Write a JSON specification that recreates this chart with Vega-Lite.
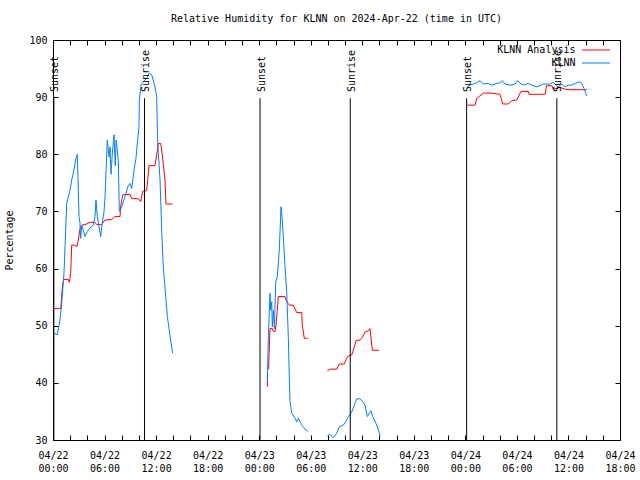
{
  "$schema": "https://vega.github.io/schema/vega-lite/v6.json",
  "width": 567,
  "height": 400,
  "autosize": {"type": "none"},
  "padding": {"left": 53, "top": 40, "right": 20, "bottom": 40},
  "background": "white",
  "config": {
    "font": "DejaVu Sans Mono",
    "view": {"stroke": "black", "strokeWidth": 1},
    "axis": {"labelFont": "DejaVu Sans Mono", "labelFontSize": 10, "labelColor": "black", "titleFont": "DejaVu Sans Mono", "titleFontSize": 10, "titleFontWeight": "normal", "titleColor": "black", "grid": false, "domain": false, "tickColor": "black"},
    "legend": {"labelFont": "DejaVu Sans Mono", "labelFontSize": 10, "labelColor": "black", "titleFont": "DejaVu Sans Mono", "titleFontSize": 10},
    "title": {"font": "DejaVu Sans Mono", "fontSize": 10, "fontWeight": "normal", "color": "black"}
  },
  "title": {"text": "Relative Humidity for KLNN on 2024-Apr-22 (time in UTC)", "anchor": "middle", "offset": 11},
  "datasets": {
    "rh": [
      {"series": "KLNN Analysis", "seg": 1, "h": 0.03, "rh": 53.0},
      {"series": "KLNN Analysis", "seg": 1, "h": 0.9, "rh": 53.0},
      {"series": "KLNN Analysis", "seg": 1, "h": 1.13, "rh": 57.4},
      {"series": "KLNN Analysis", "seg": 1, "h": 1.28, "rh": 58.1},
      {"series": "KLNN Analysis", "seg": 1, "h": 1.78, "rh": 58.1},
      {"series": "KLNN Analysis", "seg": 1, "h": 1.9, "rh": 57.6},
      {"series": "KLNN Analysis", "seg": 1, "h": 2.06, "rh": 59.2},
      {"series": "KLNN Analysis", "seg": 1, "h": 2.18, "rh": 64.1},
      {"series": "KLNN Analysis", "seg": 1, "h": 2.56, "rh": 64.1},
      {"series": "KLNN Analysis", "seg": 1, "h": 2.76, "rh": 63.8},
      {"series": "KLNN Analysis", "seg": 1, "h": 2.95, "rh": 65.0},
      {"series": "KLNN Analysis", "seg": 1, "h": 3.14, "rh": 67.0},
      {"series": "KLNN Analysis", "seg": 1, "h": 3.34, "rh": 67.6},
      {"series": "KLNN Analysis", "seg": 1, "h": 3.92, "rh": 67.8},
      {"series": "KLNN Analysis", "seg": 1, "h": 4.31, "rh": 68.1},
      {"series": "KLNN Analysis", "seg": 1, "h": 4.89, "rh": 68.1},
      {"series": "KLNN Analysis", "seg": 1, "h": 5.08, "rh": 67.7},
      {"series": "KLNN Analysis", "seg": 1, "h": 5.67, "rh": 67.7},
      {"series": "KLNN Analysis", "seg": 1, "h": 6.05, "rh": 68.5},
      {"series": "KLNN Analysis", "seg": 1, "h": 6.83, "rh": 68.6},
      {"series": "KLNN Analysis", "seg": 1, "h": 7.22, "rh": 69.1},
      {"series": "KLNN Analysis", "seg": 1, "h": 7.8, "rh": 69.1},
      {"series": "KLNN Analysis", "seg": 1, "h": 7.88, "rh": 70.9},
      {"series": "KLNN Analysis", "seg": 1, "h": 8.11, "rh": 72.9},
      {"series": "KLNN Analysis", "seg": 1, "h": 8.96, "rh": 73.0},
      {"series": "KLNN Analysis", "seg": 1, "h": 9.16, "rh": 72.3},
      {"series": "KLNN Analysis", "seg": 1, "h": 9.93, "rh": 72.2},
      {"series": "KLNN Analysis", "seg": 1, "h": 10.21, "rh": 71.7},
      {"series": "KLNN Analysis", "seg": 1, "h": 10.44, "rh": 73.5},
      {"series": "KLNN Analysis", "seg": 1, "h": 10.91, "rh": 73.7},
      {"series": "KLNN Analysis", "seg": 1, "h": 11.18, "rh": 78.0},
      {"series": "KLNN Analysis", "seg": 1, "h": 11.87, "rh": 78.0},
      {"series": "KLNN Analysis", "seg": 1, "h": 12.07, "rh": 79.9},
      {"series": "KLNN Analysis", "seg": 1, "h": 12.26, "rh": 81.9},
      {"series": "KLNN Analysis", "seg": 1, "h": 12.54, "rh": 81.9},
      {"series": "KLNN Analysis", "seg": 1, "h": 12.72, "rh": 79.9},
      {"series": "KLNN Analysis", "seg": 1, "h": 13.04, "rh": 75.5},
      {"series": "KLNN Analysis", "seg": 1, "h": 13.15, "rh": 71.3},
      {"series": "KLNN Analysis", "seg": 1, "h": 13.93, "rh": 71.3},

      {"series": "KLNN Analysis", "seg": 2, "h": 24.95, "rh": 39.3},
      {"series": "KLNN Analysis", "seg": 2, "h": 24.97, "rh": 42.5},
      {"series": "KLNN Analysis", "seg": 2, "h": 25.1, "rh": 42.5},
      {"series": "KLNN Analysis", "seg": 2, "h": 25.14, "rh": 44.6},
      {"series": "KLNN Analysis", "seg": 2, "h": 25.26, "rh": 49.5},
      {"series": "KLNN Analysis", "seg": 2, "h": 25.53, "rh": 49.5},
      {"series": "KLNN Analysis", "seg": 2, "h": 25.65, "rh": 49.0},
      {"series": "KLNN Analysis", "seg": 2, "h": 25.84, "rh": 49.0},
      {"series": "KLNN Analysis", "seg": 2, "h": 25.96, "rh": 50.1},
      {"series": "KLNN Analysis", "seg": 2, "h": 26.11, "rh": 52.7},
      {"series": "KLNN Analysis", "seg": 2, "h": 26.23, "rh": 55.1},
      {"series": "KLNN Analysis", "seg": 2, "h": 27.01, "rh": 55.1},
      {"series": "KLNN Analysis", "seg": 2, "h": 27.21, "rh": 54.2},
      {"series": "KLNN Analysis", "seg": 2, "h": 27.51, "rh": 53.6},
      {"series": "KLNN Analysis", "seg": 2, "h": 27.97, "rh": 53.6},
      {"series": "KLNN Analysis", "seg": 2, "h": 28.37, "rh": 52.3},
      {"series": "KLNN Analysis", "seg": 2, "h": 28.95, "rh": 52.3},
      {"series": "KLNN Analysis", "seg": 2, "h": 29.02, "rh": 50.1},
      {"series": "KLNN Analysis", "seg": 2, "h": 29.25, "rh": 47.8},
      {"series": "KLNN Analysis", "seg": 2, "h": 29.65, "rh": 47.8},

      {"series": "KLNN Analysis", "seg": 3, "h": 31.93, "rh": 42.1},
      {"series": "KLNN Analysis", "seg": 3, "h": 32.25, "rh": 42.4},
      {"series": "KLNN Analysis", "seg": 3, "h": 33.03, "rh": 42.4},
      {"series": "KLNN Analysis", "seg": 3, "h": 33.33, "rh": 43.3},
      {"series": "KLNN Analysis", "seg": 3, "h": 33.91, "rh": 43.3},
      {"series": "KLNN Analysis", "seg": 3, "h": 34.19, "rh": 44.3},
      {"series": "KLNN Analysis", "seg": 3, "h": 34.38, "rh": 44.7},
      {"series": "KLNN Analysis", "seg": 3, "h": 34.77, "rh": 44.9},
      {"series": "KLNN Analysis", "seg": 3, "h": 34.96, "rh": 45.7},
      {"series": "KLNN Analysis", "seg": 3, "h": 35.27, "rh": 47.4},
      {"series": "KLNN Analysis", "seg": 3, "h": 35.74, "rh": 47.5},
      {"series": "KLNN Analysis", "seg": 3, "h": 35.94, "rh": 47.8},
      {"series": "KLNN Analysis", "seg": 3, "h": 36.32, "rh": 48.9},
      {"series": "KLNN Analysis", "seg": 3, "h": 36.71, "rh": 49.1},
      {"series": "KLNN Analysis", "seg": 3, "h": 36.9, "rh": 49.5},
      {"series": "KLNN Analysis", "seg": 3, "h": 37.17, "rh": 45.7},
      {"series": "KLNN Analysis", "seg": 3, "h": 37.95, "rh": 45.7},

      {"series": "KLNN Analysis", "seg": 4, "h": 48.23, "rh": 88.6},
      {"series": "KLNN Analysis", "seg": 4, "h": 49.13, "rh": 88.6},
      {"series": "KLNN Analysis", "seg": 4, "h": 49.32, "rh": 89.8},
      {"series": "KLNN Analysis", "seg": 4, "h": 49.5, "rh": 90.0},
      {"series": "KLNN Analysis", "seg": 4, "h": 50.09, "rh": 90.7},
      {"series": "KLNN Analysis", "seg": 4, "h": 51.07, "rh": 90.7},
      {"series": "KLNN Analysis", "seg": 4, "h": 52.04, "rh": 90.5},
      {"series": "KLNN Analysis", "seg": 4, "h": 52.35, "rh": 88.8},
      {"series": "KLNN Analysis", "seg": 4, "h": 53.0, "rh": 88.8},
      {"series": "KLNN Analysis", "seg": 4, "h": 53.4, "rh": 89.4},
      {"series": "KLNN Analysis", "seg": 4, "h": 53.98, "rh": 89.5},
      {"series": "KLNN Analysis", "seg": 4, "h": 54.37, "rh": 90.7},
      {"series": "KLNN Analysis", "seg": 4, "h": 54.48, "rh": 91.0},
      {"series": "KLNN Analysis", "seg": 4, "h": 55.33, "rh": 91.0},
      {"series": "KLNN Analysis", "seg": 4, "h": 55.41, "rh": 90.5},
      {"series": "KLNN Analysis", "seg": 4, "h": 57.28, "rh": 90.5},
      {"series": "KLNN Analysis", "seg": 4, "h": 57.45, "rh": 92.0},
      {"series": "KLNN Analysis", "seg": 4, "h": 58.06, "rh": 92.0},
      {"series": "KLNN Analysis", "seg": 4, "h": 58.24, "rh": 91.4},
      {"series": "KLNN Analysis", "seg": 4, "h": 59.02, "rh": 91.7},
      {"series": "KLNN Analysis", "seg": 4, "h": 59.6, "rh": 91.4},
      {"series": "KLNN Analysis", "seg": 4, "h": 60.19, "rh": 91.3},
      {"series": "KLNN Analysis", "seg": 4, "h": 62.13, "rh": 91.3},

      {"series": "KLNN", "seg": 1, "h": 0.05, "rh": 48.7},
      {"series": "KLNN", "seg": 1, "h": 0.5, "rh": 48.4},
      {"series": "KLNN", "seg": 1, "h": 0.81, "rh": 51.0},
      {"series": "KLNN", "seg": 1, "h": 1.01, "rh": 53.8},
      {"series": "KLNN", "seg": 1, "h": 1.28, "rh": 59.2},
      {"series": "KLNN", "seg": 1, "h": 1.4, "rh": 63.8},
      {"series": "KLNN", "seg": 1, "h": 1.52, "rh": 68.5},
      {"series": "KLNN", "seg": 1, "h": 1.6, "rh": 71.4},
      {"series": "KLNN", "seg": 1, "h": 1.98, "rh": 73.7},
      {"series": "KLNN", "seg": 1, "h": 2.18, "rh": 75.5},
      {"series": "KLNN", "seg": 1, "h": 2.36, "rh": 76.7},
      {"series": "KLNN", "seg": 1, "h": 2.68, "rh": 79.3},
      {"series": "KLNN", "seg": 1, "h": 2.83, "rh": 80.0},
      {"series": "KLNN", "seg": 1, "h": 3.03, "rh": 69.1},
      {"series": "KLNN", "seg": 1, "h": 3.14, "rh": 68.0},
      {"series": "KLNN", "seg": 1, "h": 3.22, "rh": 65.3},
      {"series": "KLNN", "seg": 1, "h": 3.34, "rh": 67.6},
      {"series": "KLNN", "seg": 1, "h": 3.53, "rh": 66.7},
      {"series": "KLNN", "seg": 1, "h": 3.73, "rh": 65.6},
      {"series": "KLNN", "seg": 1, "h": 3.99, "rh": 66.5},
      {"series": "KLNN", "seg": 1, "h": 4.31, "rh": 67.1},
      {"series": "KLNN", "seg": 1, "h": 4.69, "rh": 67.6},
      {"series": "KLNN", "seg": 1, "h": 4.89, "rh": 69.1},
      {"series": "KLNN", "seg": 1, "h": 5.0, "rh": 72.0},
      {"series": "KLNN", "seg": 1, "h": 5.16, "rh": 69.1},
      {"series": "KLNN", "seg": 1, "h": 5.36, "rh": 67.3},
      {"series": "KLNN", "seg": 1, "h": 5.55, "rh": 65.6},
      {"series": "KLNN", "seg": 1, "h": 5.74, "rh": 68.0},
      {"series": "KLNN", "seg": 1, "h": 5.94, "rh": 70.0},
      {"series": "KLNN", "seg": 1, "h": 6.05, "rh": 72.3},
      {"series": "KLNN", "seg": 1, "h": 6.32, "rh": 82.5},
      {"series": "KLNN", "seg": 1, "h": 6.52, "rh": 79.5},
      {"series": "KLNN", "seg": 1, "h": 6.64, "rh": 81.3},
      {"series": "KLNN", "seg": 1, "h": 6.75, "rh": 76.5},
      {"series": "KLNN", "seg": 1, "h": 6.9, "rh": 80.0},
      {"series": "KLNN", "seg": 1, "h": 7.1, "rh": 83.4},
      {"series": "KLNN", "seg": 1, "h": 7.25, "rh": 78.0},
      {"series": "KLNN", "seg": 1, "h": 7.35, "rh": 82.5},
      {"series": "KLNN", "seg": 1, "h": 7.6, "rh": 79.0},
      {"series": "KLNN", "seg": 1, "h": 7.72, "rh": 70.0},
      {"series": "KLNN", "seg": 1, "h": 7.8, "rh": 70.2},
      {"series": "KLNN", "seg": 1, "h": 8.0, "rh": 70.8},
      {"series": "KLNN", "seg": 1, "h": 8.38, "rh": 72.6},
      {"series": "KLNN", "seg": 1, "h": 8.7, "rh": 74.3},
      {"series": "KLNN", "seg": 1, "h": 8.96, "rh": 74.9},
      {"series": "KLNN", "seg": 1, "h": 9.16, "rh": 74.0},
      {"series": "KLNN", "seg": 1, "h": 9.43, "rh": 77.2},
      {"series": "KLNN", "seg": 1, "h": 9.66, "rh": 79.3},
      {"series": "KLNN", "seg": 1, "h": 9.81, "rh": 81.9},
      {"series": "KLNN", "seg": 1, "h": 10.01, "rh": 84.8},
      {"series": "KLNN", "seg": 1, "h": 10.05, "rh": 89.5},
      {"series": "KLNN", "seg": 1, "h": 10.24, "rh": 92.1},
      {"series": "KLNN", "seg": 1, "h": 10.51, "rh": 92.7},
      {"series": "KLNN", "seg": 1, "h": 10.91, "rh": 93.3},
      {"series": "KLNN", "seg": 1, "h": 11.21, "rh": 94.2},
      {"series": "KLNN", "seg": 1, "h": 11.49, "rh": 93.9},
      {"series": "KLNN", "seg": 1, "h": 11.87, "rh": 91.8},
      {"series": "KLNN", "seg": 1, "h": 12.07, "rh": 90.1},
      {"series": "KLNN", "seg": 1, "h": 12.19, "rh": 81.9},
      {"series": "KLNN", "seg": 1, "h": 12.46, "rh": 75.5},
      {"series": "KLNN", "seg": 1, "h": 12.65, "rh": 66.7},
      {"series": "KLNN", "seg": 1, "h": 12.84, "rh": 60.3},
      {"series": "KLNN", "seg": 1, "h": 13.12, "rh": 55.1},
      {"series": "KLNN", "seg": 1, "h": 13.31, "rh": 51.6},
      {"series": "KLNN", "seg": 1, "h": 13.54, "rh": 49.2},
      {"series": "KLNN", "seg": 1, "h": 13.74, "rh": 47.0},
      {"series": "KLNN", "seg": 1, "h": 13.93, "rh": 45.2},

      {"series": "KLNN", "seg": 2, "h": 24.95, "rh": 40.2},
      {"series": "KLNN", "seg": 2, "h": 25.06, "rh": 47.8},
      {"series": "KLNN", "seg": 2, "h": 25.26, "rh": 55.7},
      {"series": "KLNN", "seg": 2, "h": 25.34, "rh": 52.7},
      {"series": "KLNN", "seg": 2, "h": 25.46, "rh": 54.2},
      {"series": "KLNN", "seg": 2, "h": 25.53, "rh": 49.8},
      {"series": "KLNN", "seg": 2, "h": 25.65, "rh": 52.7},
      {"series": "KLNN", "seg": 2, "h": 25.77, "rh": 49.5},
      {"series": "KLNN", "seg": 2, "h": 25.93, "rh": 57.7},
      {"series": "KLNN", "seg": 2, "h": 26.11, "rh": 58.6},
      {"series": "KLNN", "seg": 2, "h": 26.34, "rh": 63.2},
      {"series": "KLNN", "seg": 2, "h": 26.54, "rh": 70.8},
      {"series": "KLNN", "seg": 2, "h": 26.66, "rh": 69.1},
      {"series": "KLNN", "seg": 2, "h": 26.81, "rh": 65.6},
      {"series": "KLNN", "seg": 2, "h": 27.01, "rh": 60.3},
      {"series": "KLNN", "seg": 2, "h": 27.21, "rh": 55.7},
      {"series": "KLNN", "seg": 2, "h": 27.39, "rh": 48.1},
      {"series": "KLNN", "seg": 2, "h": 27.51, "rh": 40.5},
      {"series": "KLNN", "seg": 2, "h": 27.59, "rh": 36.7},
      {"series": "KLNN", "seg": 2, "h": 27.79, "rh": 34.7},
      {"series": "KLNN", "seg": 2, "h": 28.17, "rh": 33.8},
      {"series": "KLNN", "seg": 2, "h": 28.37, "rh": 33.2},
      {"series": "KLNN", "seg": 2, "h": 28.56, "rh": 33.8},
      {"series": "KLNN", "seg": 2, "h": 28.95, "rh": 32.6},
      {"series": "KLNN", "seg": 2, "h": 29.34, "rh": 31.9},
      {"series": "KLNN", "seg": 2, "h": 29.65, "rh": 31.5},

      {"series": "KLNN", "seg": 3, "h": 31.93, "rh": 30.75},
      {"series": "KLNN", "seg": 3, "h": 32.25, "rh": 31.0},
      {"series": "KLNN", "seg": 3, "h": 32.63, "rh": 30.4},
      {"series": "KLNN", "seg": 3, "h": 33.03, "rh": 31.2},
      {"series": "KLNN", "seg": 3, "h": 33.33, "rh": 32.3},
      {"series": "KLNN", "seg": 3, "h": 33.8, "rh": 32.6},
      {"series": "KLNN", "seg": 3, "h": 34.19, "rh": 33.5},
      {"series": "KLNN", "seg": 3, "h": 34.38, "rh": 34.1},
      {"series": "KLNN", "seg": 3, "h": 34.77, "rh": 34.9},
      {"series": "KLNN", "seg": 3, "h": 35.16, "rh": 36.4},
      {"series": "KLNN", "seg": 3, "h": 35.35, "rh": 37.2},
      {"series": "KLNN", "seg": 3, "h": 35.74, "rh": 37.2},
      {"series": "KLNN", "seg": 3, "h": 36.05, "rh": 36.7},
      {"series": "KLNN", "seg": 3, "h": 36.32, "rh": 36.1},
      {"series": "KLNN", "seg": 3, "h": 36.59, "rh": 34.1},
      {"series": "KLNN", "seg": 3, "h": 36.82, "rh": 34.7},
      {"series": "KLNN", "seg": 3, "h": 37.02, "rh": 35.1},
      {"series": "KLNN", "seg": 3, "h": 37.22, "rh": 34.1},
      {"series": "KLNN", "seg": 3, "h": 37.6, "rh": 32.9},
      {"series": "KLNN", "seg": 3, "h": 37.87, "rh": 31.8},
      {"series": "KLNN", "seg": 3, "h": 38.07, "rh": 30.75},

      {"series": "KLNN", "seg": 4, "h": 48.23, "rh": 91.8},
      {"series": "KLNN", "seg": 4, "h": 48.54, "rh": 92.1},
      {"series": "KLNN", "seg": 4, "h": 48.93, "rh": 92.3},
      {"series": "KLNN", "seg": 4, "h": 49.32, "rh": 92.5},
      {"series": "KLNN", "seg": 4, "h": 49.71, "rh": 92.9},
      {"series": "KLNN", "seg": 4, "h": 50.09, "rh": 92.3},
      {"series": "KLNN", "seg": 4, "h": 50.67, "rh": 92.4},
      {"series": "KLNN", "seg": 4, "h": 51.07, "rh": 92.1},
      {"series": "KLNN", "seg": 4, "h": 51.65, "rh": 92.4},
      {"series": "KLNN", "seg": 4, "h": 52.04, "rh": 92.5},
      {"series": "KLNN", "seg": 4, "h": 52.31, "rh": 92.9},
      {"series": "KLNN", "seg": 4, "h": 52.62, "rh": 92.3},
      {"series": "KLNN", "seg": 4, "h": 53.2, "rh": 92.1},
      {"series": "KLNN", "seg": 4, "h": 53.78, "rh": 92.3},
      {"series": "KLNN", "seg": 4, "h": 54.1, "rh": 92.9},
      {"series": "KLNN", "seg": 4, "h": 54.37, "rh": 92.4},
      {"series": "KLNN", "seg": 4, "h": 54.83, "rh": 92.1},
      {"series": "KLNN", "seg": 4, "h": 55.33, "rh": 92.4},
      {"series": "KLNN", "seg": 4, "h": 55.73, "rh": 92.1},
      {"series": "KLNN", "seg": 4, "h": 56.31, "rh": 91.8},
      {"series": "KLNN", "seg": 4, "h": 56.69, "rh": 92.0},
      {"series": "KLNN", "seg": 4, "h": 57.08, "rh": 92.3},
      {"series": "KLNN", "seg": 4, "h": 57.86, "rh": 92.3},
      {"series": "KLNN", "seg": 4, "h": 58.24, "rh": 92.6},
      {"series": "KLNN", "seg": 4, "h": 58.56, "rh": 92.1},
      {"series": "KLNN", "seg": 4, "h": 58.82, "rh": 91.8},
      {"series": "KLNN", "seg": 4, "h": 59.22, "rh": 92.3},
      {"series": "KLNN", "seg": 4, "h": 59.6, "rh": 91.8},
      {"series": "KLNN", "seg": 4, "h": 59.99, "rh": 92.1},
      {"series": "KLNN", "seg": 4, "h": 60.38, "rh": 92.1},
      {"series": "KLNN", "seg": 4, "h": 60.77, "rh": 92.4},
      {"series": "KLNN", "seg": 4, "h": 61.27, "rh": 92.7},
      {"series": "KLNN", "seg": 4, "h": 61.55, "rh": 92.4},
      {"series": "KLNN", "seg": 4, "h": 61.82, "rh": 91.5},
      {"series": "KLNN", "seg": 4, "h": 62.13, "rh": 90.2}
    ],
    "sun": [
      {"event": "Sunset", "h": 0.1},
      {"event": "Sunrise", "h": 10.65},
      {"event": "Sunset", "h": 24.1},
      {"event": "Sunrise", "h": 34.6},
      {"event": "Sunset", "h": 48.15},
      {"event": "Sunrise", "h": 58.65}
    ]
  },
  "resolve": {"axis": {"x": "independent", "y": "independent"}},
  "layer": [
    {
      "data": {"name": "rh"},
      "mark": {"type": "line", "strokeWidth": 1, "clip": true, "interpolate": "linear"},
      "encoding": {
        "x": {"field": "h", "type": "quantitative",
              "scale": {"domain": [0, 66], "nice": false, "zero": false},
              "axis": {"orient": "bottom", "title": null,
                       "values": [0, 2, 4, 6, 8, 10, 12, 14, 16, 18, 20, 22, 24, 26, 28, 30, 32, 34, 36, 38, 40, 42, 44, 46, 48, 50, 52, 54, 56, 58, 60, 62, 64, 66],
                       "tickSize": -5, "labelPadding": 15, "labelLineHeight": 13, "labelFlush": false, "labelOverlap": false,
                       "labelExpr": "datum.value % 6 == 0 ? ['04/' + (22 + floor(datum.value / 24)), (datum.value % 24 < 10 ? '0' : '') + (datum.value % 24) + ':00'] : ''"}},
        "y": {"field": "rh", "type": "quantitative",
              "scale": {"domain": [30, 100], "nice": false, "zero": false},
              "axis": {"orient": "left", "title": "Percentage", "values": [30, 40, 50, 60, 70, 80, 90, 100],
                       "tickSize": -5, "labelPadding": 11, "titlePadding": 14}},
        "color": {"field": "series", "type": "nominal",
                  "scale": {"domain": ["KLNN Analysis", "KLNN"], "range": ["#ff0000", "#0080ff"]},
                  "legend": {"title": "\u00a0", "titleOrient": "right", "titlePadding": 6, "orient": "top-right", "offset": 2.5,
                             "symbolType": "M-2.15,0H2.15", "symbolSize": 169, "symbolFillColor": "transparent",
                             "symbolStrokeWidth": 1, "labelAlign": "right", "labelOffset": -27.5, "rowPadding": 1}},
        "detail": {"field": "seg", "type": "nominal"},
        "order": {"field": "h", "type": "quantitative"}
      }
    },
    {
      "data": {"name": "sun"},
      "mark": {"type": "rule", "color": "black", "strokeWidth": 1},
      "encoding": {
        "x": {"field": "h", "type": "quantitative",
              "axis": {"orient": "top", "title": null, "labels": false,
                       "values": [0, 2, 4, 6, 8, 10, 12, 14, 16, 18, 20, 22, 24, 26, 28, 30, 32, 34, 36, 38, 40, 42, 44, 46, 48, 50, 52, 54, 56, 58, 60, 62, 64, 66],
                       "tickSize": -5}},
        "y": {"datum": 30, "type": "quantitative",
              "axis": {"orient": "right", "title": null, "labels": false, "values": [30, 40, 50, 60, 70, 80, 90, 100], "tickSize": -5}},
        "y2": {"datum": 89.8}
      }
    },
    {
      "data": {"name": "sun"},
      "mark": {"type": "text", "angle": 270, "align": "left", "baseline": "middle", "dy": 1.5, "fontSize": 10, "font": "DejaVu Sans Mono", "color": "black"},
      "encoding": {
        "x": {"field": "h", "type": "quantitative", "axis": null},
        "y": {"datum": 90.9, "type": "quantitative", "axis": null},
        "text": {"field": "event"}
      }
    }
  ]
}
